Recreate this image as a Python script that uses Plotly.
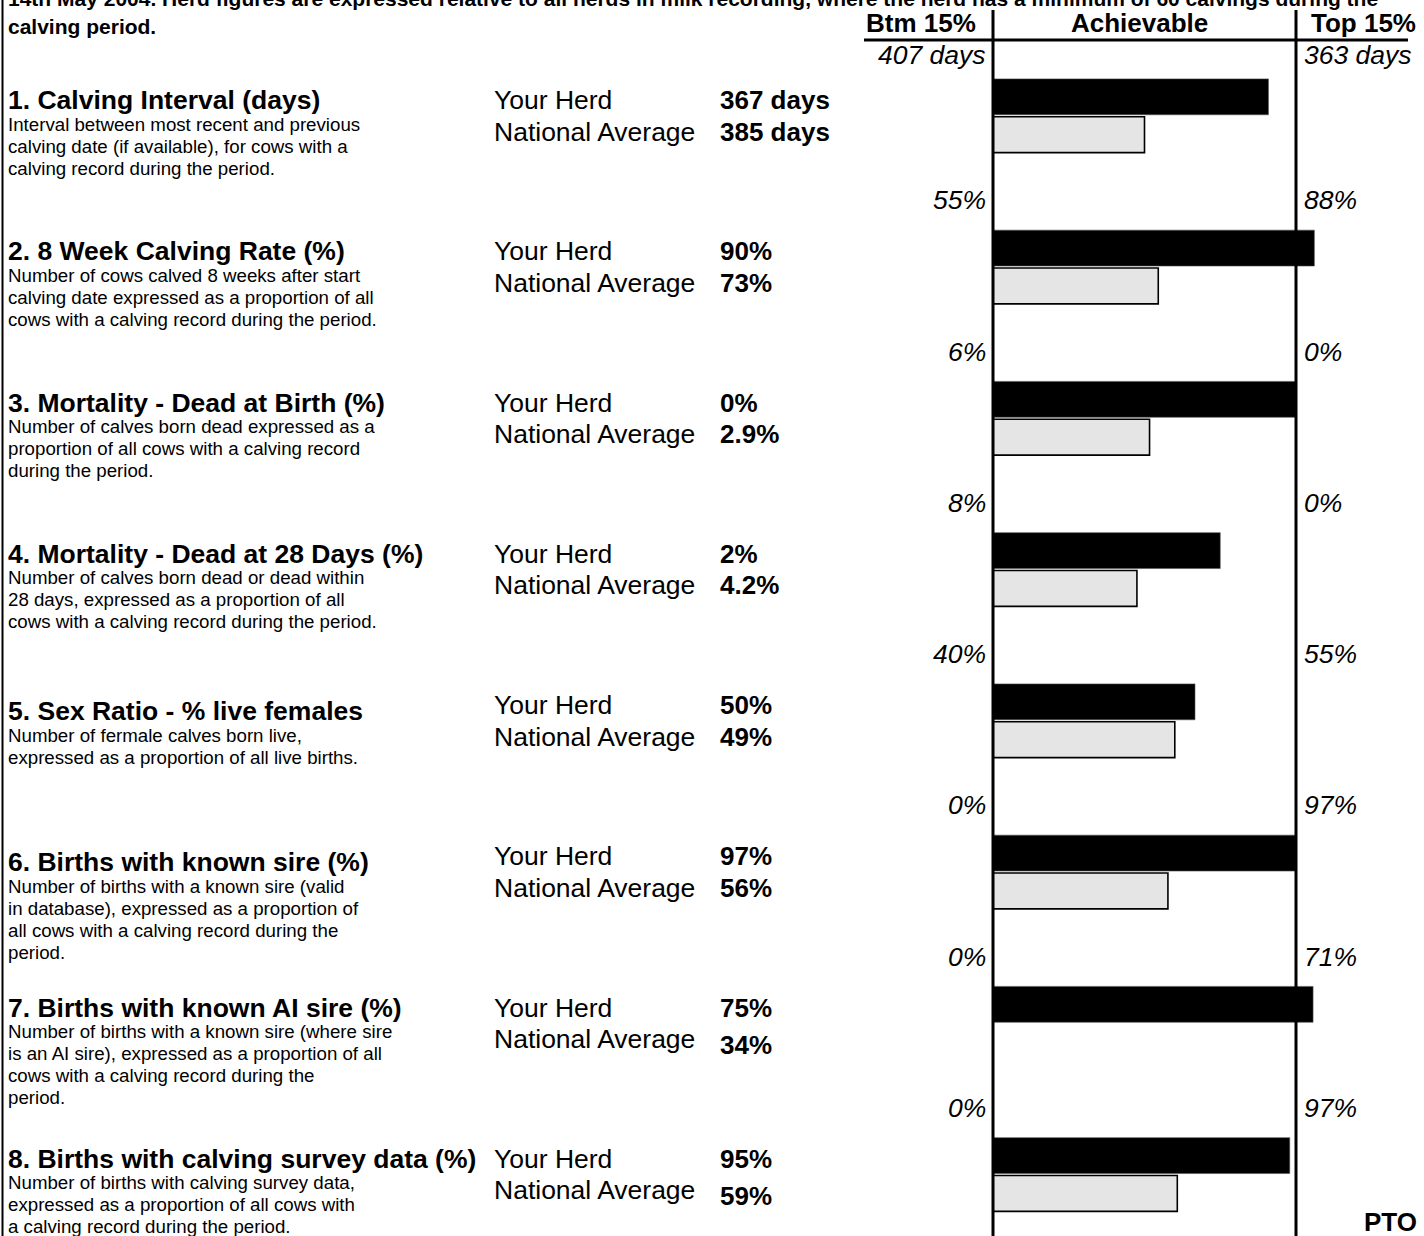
import plotly.graph_objects as go

# ---------------- data ----------------
titles = [
    "1. Calving Interval (days)",
    "2. 8 Week Calving Rate (%)",
    "3. Mortality - Dead at Birth (%)",
    "4. Mortality - Dead at 28 Days (%)",
    "5. Sex Ratio - % live females",
    "6. Births with known sire (%)",
    "7. Births with known AI sire (%)",
    "8. Births with calving survey data (%)",
]
descriptions = [
    ["Interval between most recent and previous",
     "calving date (if available), for cows with a",
     "calving record during the period."],
    ["Number of cows calved 8 weeks after start",
     "calving date expressed as a proportion of all",
     "cows with a calving record during the period."],
    ["Number of calves born dead expressed as a",
     "proportion of all cows with a calving record",
     "during the period."],
    ["Number of calves born dead or dead within",
     "28 days, expressed as a proportion of all",
     "cows with a calving record during the period."],
    ["Number of fermale calves born live,",
     "expressed as a proportion of all live births."],
    ["Number of births with a known sire (valid",
     "in database), expressed as a proportion of",
     "all cows with a calving record during the",
     "period."],
    ["Number of births with a known sire (where sire",
     "is an AI sire), expressed as a proportion of all",
     "cows with a calving record during the",
     "period."],
    ["Number of births with calving survey data,",
     "expressed as a proportion of all cows with",
     "a calving record during the period."],
]
herd_values = [367, 90, 0, 2, 50, 97, 75, 95]
national_values = [385, 73, 2.9, 4.2, 49, 56, 34, 59]
national_bar_drawn = [True, True, True, True, True, True, False, True]  # item 7 bar absent in source
herd_text = ["367 days", "90%", "0%", "2%", "50%", "97%", "75%", "95%"]
national_text = ["385 days", "73%", "2.9%", "4.2%", "49%", "56%", "34%", "59%"]
btm15 = [407, 55, 6, 8, 40, 0, 0, 0]
top15 = [363, 88, 0, 0, 55, 97, 71, 97]
btm15_text = ["407 days", "55%", "6%", "8%", "40%", "0%", "0%", "0%"]
top15_text = ["363 days", "88%", "0%", "0%", "55%", "97%", "71%", "97%"]

intro_line1 = ("14th May 2004. Herd figures are expressed relative to all herds in milk recording, "
               "where the herd has a minimum of 60 calvings during the")
intro_line2 = "calving period."

# ---------------- layout constants ----------------
W, H = 1424, 1236
LEFT_PX, RIGHT_PX = 993, 1296          # pixel positions of Btm 15% and Top 15% lines
ROW0_PX, ROW_PX = 115.75, 151.25       # centre of first bar group, spacing between rows
FONT = "Liberation Sans, Arial, Helvetica, sans-serif"

def score(v, b, t):
    return (v - b) / (t - b)

rows = list(range(len(titles)))
herd_score = [score(v, b, t) for v, b, t in zip(herd_values, btm15, top15)]
nat_score = [score(v, b, t) if d else None
             for v, b, t, d in zip(national_values, btm15, top15, national_bar_drawn)]

fig = go.Figure()
fig.add_trace(go.Bar(
    x=herd_score, y=rows, orientation="h", name="Your Herd",
    marker=dict(color="#000000", line=dict(color="#555555", width=0.6)),
    hoverinfo="skip",
))
fig.add_trace(go.Bar(
    x=nat_score, y=rows, orientation="h", name="National Average",
    marker=dict(color="#e5e5e5", line=dict(color="#000000", width=1.6)),
    hoverinfo="skip",
))

# x range so that 0 -> LEFT_PX and 1 -> RIGHT_PX over full width
unit = RIGHT_PX - LEFT_PX
x_range = [-LEFT_PX / unit, (W - LEFT_PX) / unit]
y_range = [(H - ROW0_PX) / ROW_PX, -ROW0_PX / ROW_PX]

def ry(i, dpx):
    """row coordinate for row i, shifted by dpx pixels from the bar-group centre"""
    return i + dpx / ROW_PX

def py(px):
    return 1 - px / H

def pxx(px):
    return px / W

ann = []
def add(text, x, y, size, xanchor="left", bold=False, italic=False, yref="y"):
    t = text
    if bold:
        t = "<b>" + t + "</b>"
    if italic:
        t = "<i>" + t + "</i>"
    ann.append(dict(text=t, x=x, y=y, xref="paper", yref=yref, xanchor=xanchor,
                    yanchor="middle", showarrow=False, borderpad=0, borderwidth=0,
                    font=dict(family=FONT, size=size, color="#000000")))

# intro text (cut at the top, as in the source)
add(intro_line1, pxx(8), py(-1.5), 21, bold=True, yref="paper")
add(intro_line2, pxx(8), py(26), 21, bold=True, yref="paper")

# header
add("Btm 15%", pxx(976), py(23), 26, xanchor="right", bold=True, yref="paper")
add("Achievable", pxx(1139), py(23), 26, xanchor="center", bold=True, yref="paper")
add("Top 15%", pxx(1311), py(23), 26, bold=True, yref="paper")

heading_shift = [0, 0, 0, 0, 6, 6, 0, 0]
nat_value_shift = [0, 0, 0, 0, 0, 0, 6, 6]
label_shift = [-60.75, -66.75, -66.75, -66.75, -66.75, -66.75, -66.75, -66.25]

for i in rows:
    hy = -15.75 + heading_shift[i]
    add(titles[i], pxx(8), ry(i, hy), 26.5, bold=True)
    for k, line in enumerate(descriptions[i]):
        add(line, pxx(8), ry(i, hy + 24 + 22 * k), 18.7)
    add("Your Herd", pxx(494), ry(i, -15.75), 26.5)
    add("National Average", pxx(494), ry(i, 15.75), 26.5)
    add(herd_text[i], pxx(720), ry(i, -15.75), 26, bold=True)
    add(national_text[i], pxx(720), ry(i, 15.75 + nat_value_shift[i]), 26, bold=True)
    add(btm15_text[i], pxx(986), ry(i, label_shift[i]), 26.5, xanchor="right", italic=True)
    add(top15_text[i], pxx(1304), ry(i, label_shift[i]), 26.5, italic=True)

add("PTO", pxx(1364), py(1222), 26, bold=True, yref="paper")

shapes = [
    # frame line on the left
    dict(type="line", xref="paper", yref="paper", x0=pxx(2.5), x1=pxx(2.5), y0=0, y1=1,
         line=dict(color="#000000", width=2)),
    # header rule
    dict(type="line", xref="paper", yref="paper", x0=pxx(864), x1=pxx(1408),
         y0=py(40), y1=py(40), line=dict(color="#000000", width=3)),
    # Btm 15% and Top 15% boundaries
    dict(type="line", xref="x", yref="paper", x0=0, x1=0, y0=0, y1=py(10),
         line=dict(color="#000000", width=3)),
    dict(type="line", xref="x", yref="paper", x0=1, x1=1, y0=0, y1=py(10),
         line=dict(color="#000000", width=3)),
]

fig.update_layout(
    width=W, height=H,
    margin=dict(l=0, r=0, t=0, b=0, pad=0),
    paper_bgcolor="#ffffff", plot_bgcolor="#ffffff",
    barmode="group", bargap=0.5, bargroupgap=0.05,
    showlegend=False,
    xaxis=dict(range=x_range, visible=False, fixedrange=True),
    yaxis=dict(range=y_range, visible=False, fixedrange=True),
    annotations=ann, shapes=shapes,
    font=dict(family=FONT, color="#000000"),
)

fig.write_html("out.html", config={"displayModeBar": False, "staticPlot": True},
               post_script="document.body.style.margin='0';document.body.style.overflow='hidden';")
